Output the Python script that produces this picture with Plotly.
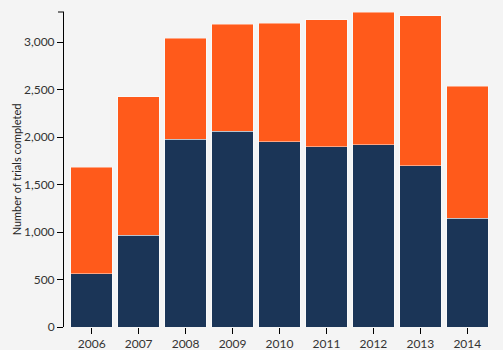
import plotly.graph_objects as go

years = ["2006", "2007", "2008", "2009", "2010", "2011", "2012", "2013", "2014"]
completed_bottom = [560, 965, 1976, 2063, 1951, 1898, 1916, 1698, 1144]
totals = [1684, 2424, 3039, 3186, 3196, 3232, 3316, 3274, 2534]
completed_top = [t - b for t, b in zip(totals, completed_bottom)]
y_ticks = [0, 500, 1000, 1500, 2000, 2500, 3000]

navy = "#1B3557"
orange = "#FF5A1B"
bg = "#F4F4F4"
font_family = "Lato, 'Open Sans', sans-serif"

fig = go.Figure()
fig.add_trace(go.Bar(x=years, y=completed_bottom, marker=dict(color=navy, line=dict(color="rgba(255,255,255,0.45)", width=1)), hoverinfo="skip"))
fig.add_trace(go.Bar(x=years, y=completed_top, marker=dict(color=orange, line=dict(color="rgba(255,255,255,0.45)", width=1)), hoverinfo="skip"))

fig.update_layout(
    width=503, height=350,
    barmode="stack", bargap=0.115,
    showlegend=False,
    paper_bgcolor=bg, plot_bgcolor=bg,
    margin=dict(l=64, r=8, t=12, b=23),
    font=dict(family=font_family, size=12, color="#333"),
    xaxis=dict(
        type="category", range=[-0.59, 8.59], automargin=False,
        showline=False, showgrid=False, zeroline=False,
        ticks="outside", ticklen=6, tickcolor="#000", tickwidth=1,
        tickfont=dict(size=12, color="#333"),
    ),
    yaxis=dict(
        range=[0, max(totals)], automargin=False,
        tickvals=y_ticks, tickformat=",",
        showline=True, linecolor="#000", linewidth=1,
        showgrid=False, zeroline=False,
        ticks="outside", ticklen=6, tickcolor="#000", tickwidth=1,
        tickfont=dict(size=12, color="#333"),
        title=dict(text="Number of trials completed", font=dict(size=11, color="#222"), standoff=0),
    ),
)
# top end-tick of the y axis (d3 style outer tick)
fig.add_shape(type="line", xref="paper", yref="paper", x0=0, x1=-6/431, y0=1, y1=1,
              line=dict(color="#000", width=1))

fig.write_html("out.html")
